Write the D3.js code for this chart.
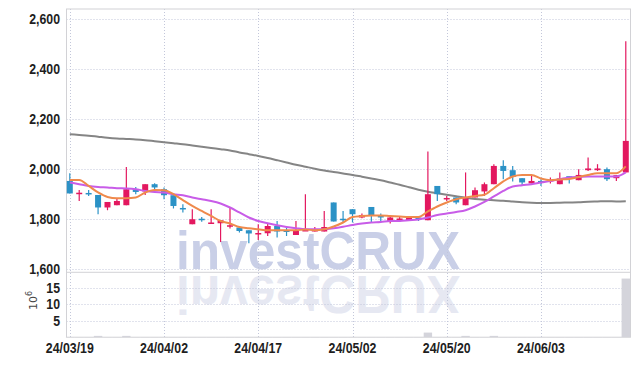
<!DOCTYPE html>
<html>
<head>
<meta charset="utf-8">
<script src="https://cdn.jsdelivr.net/npm/d3@7"></script>
<style>
    body { margin: 0; background: #fff; }
    svg { display: block; }
    .tick-label { font-family: "Liberation Sans", Arial, sans-serif; font-weight: bold; font-size: 14px; fill: #1e1e1e; }
</style>
</head>
<body>
<div id="chart"></div>
<script>
// daily candles, values
let dateLabels = ["24/03/19", "24/04/02", "24/04/17", "24/05/02", "24/05/20", "24/06/03"];
let labelIndex = [0, 10, 20, 30, 40, 50];

let open  = [1953,1904,1905,1897,1847,1856,1856,1920,1911,1940,1920,1896,1845,1780,1802,1785,1784,1771,1767,1756,
             1742,1744,1773,1755,1737,1755,1751,1751,1867,1802,1840,1807,1849,1813,1791,1797,1797,1807,1796,1933,
             1881,1887,1856,1887,1911,1940,2013,1996,1964,1943,1953,1951,1940,1972,1956,1996,1996,2000,1964,1987];
let high  = [1984,1917,1917,1897,1869,1884,2009,1929,1940,1944,1927,1896,1860,1840,1809,1840,1796,1847,1767,1756,
             1780,1783,1793,1773,1793,1900,1769,1833,1867,1833,1840,1823,1849,1823,1809,1809,1809,1813,2071,1933,
             1893,1887,1987,1927,1947,2020,2036,2013,1964,1977,1960,1967,1987,1972,2000,2047,2020,2007,1976,2511];
let low   = [1903,1873,1893,1820,1836,1856,1856,1900,1897,1916,1880,1843,1827,1780,1790,1784,1709,1763,1747,1704,
             1717,1733,1727,1733,1737,1753,1751,1751,1791,1787,1787,1804,1787,1793,1783,1789,1793,1793,1796,1873,
             1873,1860,1856,1887,1893,1940,1960,1951,1933,1943,1933,1943,1940,1943,1956,1993,1993,1953,1953,1987];
let close = [1903,1906,1903,1847,1869,1873,1920,1909,1940,1927,1896,1853,1840,1800,1798,1787,1796,1776,1753,1743,
             1745,1773,1751,1753,1753,1757,1760,1769,1791,1799,1820,1817,1813,1808,1807,1803,1809,1803,1900,1900,
             1885,1867,1884,1916,1940,2013,1993,1969,1947,1953,1950,1957,1963,1967,1977,2003,2003,1960,1976,2113];

// volume in millions
let volume = [0.05,0.05,0.05,0.4,0.05,0.05,0.4,0.05,0.05,0.05,0.05,0.05,0.05,0.05,0.05,0.05,0.05,0.05,0.05,0.05,
              0.05,0.05,0.05,0.05,0.05,0.05,0.05,0.05,0.05,0.05,0.05,0.05,0.05,0.05,0.05,0.05,0.05,0.05,1.4,0.05,
              0.05,0.05,0.4,0.05,0.05,0.4,0.05,0.05,0.05,0.05,0.05,0.05,0.05,0.05,0.05,0.05,0.05,0.05,0.05,17.8];

// moving averages
let maShort = [1957,1957,1933,1907,1889,1884,1884,1887,1907,1917,1916,1900,1876,1853,1833,1813,1793,1783,1769,1764,
               1760,1756,1756,1756,1756,1759,1756,1760,1771,1787,1809,1813,1815,1815,1813,1811,1809,1809,1831,1851,
               1867,1880,1887,1893,1898,1924,1951,1971,1977,1977,1963,1956,1959,1961,1969,1977,1984,1984,1984,2011];
let maMid   = [1947,1940,1933,1929,1927,1924,1923,1920,1913,1909,1907,1900,1896,1887,1880,1873,1863,1847,1827,1807,
               1793,1784,1776,1769,1764,1760,1760,1760,1764,1770,1777,1783,1787,1789,1793,1793,1796,1799,1807,1817,
               1823,1829,1836,1851,1869,1891,1913,1931,1936,1940,1947,1953,1960,1967,1969,1971,1971,1971,1971,1987];
let maLong  = [2140,2137,2134,2130,2126,2123,2121,2119,2116,2112,2108,2104,2100,2095,2090,2085,2080,2075,2067,2060,
               2053,2045,2036,2027,2018,2010,2002,1995,1989,1983,1977,1970,1963,1956,1947,1938,1928,1918,1910,1904,
               1898,1892,1886,1881,1878,1876,1874,1871,1868,1866,1865,1865,1866,1867,1868,1870,1871,1872,1871,1872];

let priceTicks = [1600, 1800, 2000, 2200, 2400, 2600];
let volumeTicks = [5, 10, 15];

let upColor = "#e3185f";
let downColor = "#2b92c6";

let width = 639, height = 366;
let plot = {left: 66.5, right: 630.5, top: 9, split: 272.3, bottom: 337.2};

let svg = d3.select("#chart").append("svg")
    .attr("width", width)
    .attr("height", height);

let x = d3.scaleLinear()
    .domain([-0.35, 59.5])
    .range([plot.left, plot.right]);

let y = d3.scaleLinear()
    .domain([1588, 2640])
    .range([plot.split, plot.top]);

let yVol = d3.scaleLinear()
    .domain([0, 19.7])
    .range([plot.bottom, plot.split]);

let idx = d3.range(open.length);

// watermark + reflection
let wm = svg.append("g").attr("class", "watermark");
wm.append("text")
    .attr("x", 176).attr("y", 269)
    .attr("textLength", 284)
    .attr("lengthAdjust", "spacingAndGlyphs")
    .style("font-family", "Liberation Sans, Arial, sans-serif")
    .style("font-weight", "bold")
    .style("font-size", "53px")
    .style("fill", "#c9cfe7")
    .text("investCRUX");
wm.append("text")
    .attr("x", 176).attr("y", 269)
    .attr("transform", `translate(0, ${2 * 272.5}) scale(1,-1)`)
    .attr("textLength", 284)
    .attr("lengthAdjust", "spacingAndGlyphs")
    .style("font-family", "Liberation Sans, Arial, sans-serif")
    .style("font-weight", "bold")
    .style("font-size", "53px")
    .style("fill", "#e6e8f2")
    .text("investCRUX");

// grid
let grid = svg.append("g").attr("class", "grid")
    .attr("stroke", "#c3c7da")
    .attr("stroke-dasharray", "1,2");

grid.selectAll(".hgrid")
    .data(priceTicks)
    .enter().append("line")
    .attr("x1", plot.left).attr("x2", plot.right)
    .attr("y1", d => Math.round(y(d)) + 0.5)
    .attr("y2", d => Math.round(y(d)) + 0.5);

grid.selectAll(".vgrid-vol")
    .data(volumeTicks)
    .enter().append("line")
    .attr("x1", plot.left).attr("x2", plot.right)
    .attr("y1", d => Math.round(yVol(d)) + 0.5)
    .attr("y2", d => Math.round(yVol(d)) + 0.5);

grid.selectAll(".vgrid")
    .data(labelIndex)
    .enter().append("line")
    .attr("x1", d => Math.round(x(d)) + 0.5)
    .attr("x2", d => Math.round(x(d)) + 0.5)
    .attr("y1", plot.top).attr("y2", plot.bottom);

// frame
let frame = svg.append("g").attr("stroke", "#d2d2d6").attr("fill", "none");
frame.append("rect")
    .attr("x", plot.left).attr("y", plot.top)
    .attr("width", plot.right - plot.left)
    .attr("height", plot.bottom - plot.top);
frame.append("line")
    .attr("x1", plot.left).attr("x2", plot.right)
    .attr("y1", plot.split).attr("y2", plot.split);

// volume bars
svg.append("g").selectAll("rect")
    .data(idx)
    .enter().append("rect")
    .attr("x", i => x(i) - 4.2)
    .attr("width", 8.4)
    .attr("y", i => yVol(volume[i]))
    .attr("height", i => yVol(0) - yVol(volume[i]))
    .attr("fill", "#d4d4db");

// long moving average
let line = data => d3.line()
    .x((d, i) => x(i))
    .y(d => y(d))
    .curve(d3.curveMonotoneX)(data);

svg.append("path")
    .attr("d", line(maLong))
    .attr("fill", "none")
    .attr("stroke", "#858585")
    .attr("stroke-width", 2);

// candles
let candles = svg.append("g").attr("class", "candles")
    .selectAll("g")
    .data(idx)
    .enter().append("g")
    .attr("fill", i => close[i] >= open[i] ? upColor : downColor)
    .attr("stroke", i => close[i] >= open[i] ? upColor : downColor);

candles.append("line")
    .attr("x1", i => x(i)).attr("x2", i => x(i))
    .attr("y1", i => y(high[i])).attr("y2", i => y(low[i]))
    .attr("stroke-width", 1.2);

candles.append("rect")
    .attr("x", i => x(i) - 3)
    .attr("width", 6)
    .attr("y", i => y(Math.max(open[i], close[i])))
    .attr("height", i => Math.max(1.5, Math.abs(y(open[i]) - y(close[i]))))
    .attr("stroke", "none");

// short and mid moving averages
svg.append("path")
    .attr("d", line(maMid))
    .attr("fill", "none")
    .attr("stroke", "#c85ce8")
    .attr("stroke-width", 2);

svg.append("path")
    .attr("d", line(maShort))
    .attr("fill", "none")
    .attr("stroke", "#ef8a4c")
    .attr("stroke-width", 2);

// axis labels (slightly condensed)
svg.append("g").selectAll("g")
    .data(priceTicks)
    .enter().append("g")
    .attr("transform", d => `translate(60, ${y(d)}) scale(0.88, 1)`)
    .append("text")
    .attr("class", "tick-label")
    .attr("dy", "0.36em")
    .attr("text-anchor", "end")
    .text(d => d3.format(",")(d));

svg.append("g").selectAll("g")
    .data(volumeTicks)
    .enter().append("g")
    .attr("transform", d => `translate(60, ${yVol(d)}) scale(0.88, 1)`)
    .append("text")
    .attr("class", "tick-label")
    .attr("dy", "0.36em")
    .attr("text-anchor", "end")
    .text(d => d);

svg.append("g").selectAll("g")
    .data(labelIndex)
    .enter().append("g")
    .attr("transform", d => `translate(${x(d)}, 353) scale(0.88, 1)`)
    .append("text")
    .attr("class", "tick-label")
    .attr("text-anchor", "middle")
    .text((d, i) => dateLabels[i]);

// unit label
let unit = svg.append("text")
    .attr("transform", "translate(37, 310) rotate(-90)")
    .style("font-family", "DejaVu Sans, sans-serif")
    .style("font-size", "11px")
    .style("fill", "#444");
unit.append("tspan").text("10");
unit.append("tspan").attr("dy", -5).style("font-size", "8px").text("6");
</script>
</body>
</html>
